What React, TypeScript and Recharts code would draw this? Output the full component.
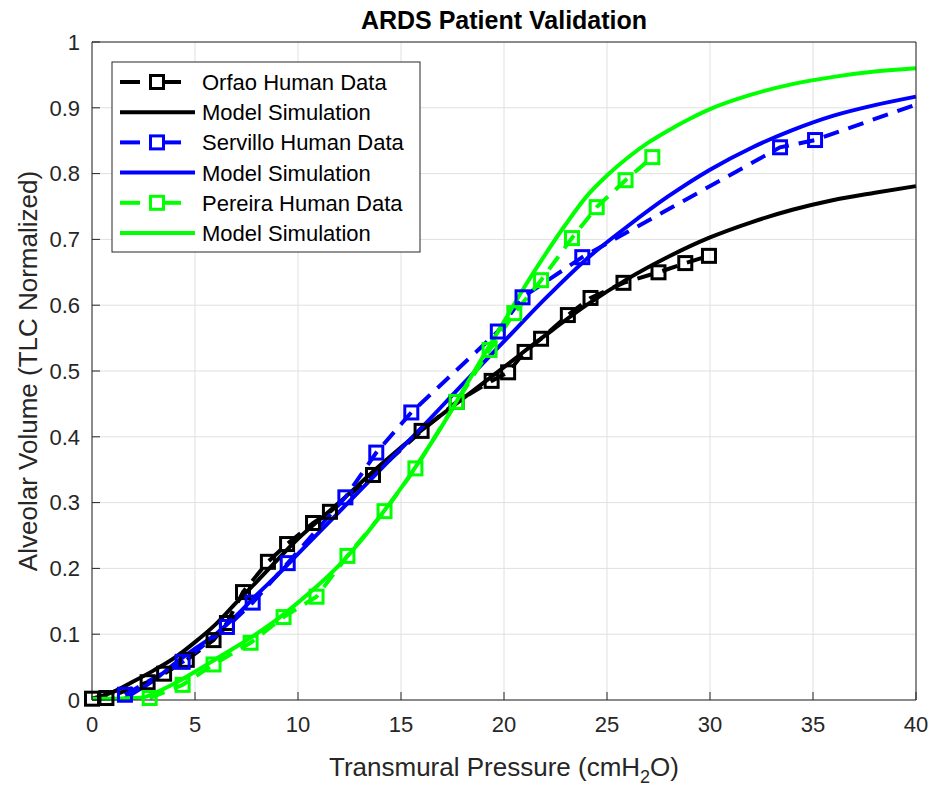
import { ComposedChart, Line, XAxis, YAxis, CartesianGrid } from "recharts";

const W = 932;
const H = 787;
const FONT = "'Liberation Sans', Arial, Helvetica, sans-serif";
const AXIS = "#262626";

const BLACK = "#000000";
const BLUE = "#0000ff";
const GREEN = "#00ff00";

const xTicks = [0, 5, 10, 15, 20, 25, 30, 35, 40];
const yTicks = [0, 0.1, 0.2, 0.3, 0.4, 0.5, 0.6, 0.7, 0.8, 0.9, 1];

// Orfao measurements
const orfaoP = [0, 0.7, 2.7, 3.5, 4.6, 5.9, 6.55, 7.33, 8.54, 9.47, 10.73, 11.55, 13.64, 16.0, 17.7, 19.4, 20.2, 21.0, 21.8, 23.1, 24.2, 25.8, 27.5, 28.8, 29.95];
const orfaoV = [0.002, 0.003, 0.027, 0.04, 0.061, 0.091, 0.117, 0.164, 0.21, 0.237, 0.269, 0.286, 0.342, 0.409, 0.453, 0.485, 0.498, 0.529, 0.549, 0.585, 0.611, 0.634, 0.65, 0.664, 0.675];

// Servillo measurements (the trend continues to 40 without a marker)
const servilloP = [1.6, 4.4, 6.55, 7.8, 9.5, 12.3, 13.8, 15.5, 19.7, 20.9, 23.8, 33.4, 35.1];
const servilloV = [0.008, 0.058, 0.111, 0.148, 0.208, 0.308, 0.376, 0.437, 0.56, 0.612, 0.673, 0.84, 0.851];
const servilloTailP = [40];
const servilloTailV = [0.905];

// Pereira measurements
const pereiraP = [2.8, 4.4, 5.9, 7.7, 9.3, 10.9, 12.4, 14.2, 15.7, 17.7, 19.3, 20.5, 21.8, 23.3, 24.5, 25.9, 27.2];
const pereiraV = [0.003, 0.023, 0.054, 0.087, 0.126, 0.157, 0.219, 0.287, 0.352, 0.453, 0.532, 0.588, 0.638, 0.702, 0.749, 0.79, 0.825];

// model simulations
const orfaoModelP = [0, 1, 2, 3, 4, 5, 6, 7, 8, 10, 12, 14, 16, 18, 20, 22, 24, 26, 28, 30, 32, 34, 36, 38, 40];
const orfaoModelV = [0.002, 0.012, 0.028, 0.045, 0.064, 0.088, 0.115, 0.148, 0.18, 0.245, 0.3, 0.357, 0.41, 0.458, 0.506, 0.554, 0.6, 0.64, 0.674, 0.703, 0.726, 0.745, 0.76, 0.771, 0.781];

const servilloModelP = [1.5, 2, 3, 4, 5, 6, 7, 8, 9, 10, 12, 14, 16, 18, 20, 22, 24, 26, 28, 30, 32, 34, 36, 38, 40];
const servilloModelV = [0.0, 0.01, 0.03, 0.055, 0.078, 0.1, 0.128, 0.16, 0.19, 0.222, 0.286, 0.35, 0.414, 0.48, 0.545, 0.61, 0.67, 0.72, 0.766, 0.806, 0.839, 0.866, 0.888, 0.904, 0.917];

const pereiraModelP = [0, 1, 2, 2.5, 3, 4, 5, 6, 7, 8, 9, 10, 11, 12, 13, 14, 15, 16, 17, 18, 19, 20, 21, 22, 23, 24, 25, 26, 27, 28, 29, 30, 32, 34, 36, 38, 40];
const pereiraModelV = [0.002, 0.002, 0.003, 0.004, 0.01, 0.025, 0.043, 0.062, 0.081, 0.101, 0.123, 0.148, 0.175, 0.205, 0.24, 0.28, 0.322, 0.368, 0.417, 0.47, 0.523, 0.575, 0.628, 0.677, 0.723, 0.765, 0.797, 0.824, 0.847, 0.866, 0.883, 0.898, 0.92, 0.936, 0.947, 0.955, 0.96];

type Pt = { x: number; y: number; bare?: boolean };

const zip = (xs: number[], ys: number[], bare = false): Pt[] =>
  xs.map((x, i) => ({ x, y: ys[i], bare }));

const orfao = zip(orfaoP, orfaoV);
const servillo = [...zip(servilloP, servilloV), ...zip(servilloTailP, servilloTailV, true)];
const pereira = zip(pereiraP, pereiraV);
const orfaoModel = zip(orfaoModelP, orfaoModelV);
const servilloModel = zip(servilloModelP, servilloModelV);
const pereiraModel = zip(pereiraModelP, pereiraModelV);

const MARK = 13;
const DASH = "16 10";

const square = (color: string) => (props: any) => {
  const { cx, cy, index, payload } = props;
  if (cx == null || cy == null || payload?.bare) return <g key={`d-${index}`} />;
  return (
    <rect
      key={`d-${index}`}
      x={cx - MARK / 2}
      y={cy - MARK / 2}
      width={MARK}
      height={MARK}
      fill="none"
      stroke={color}
      strokeWidth={3}
    />
  );
};

const legendRows = [
  { label: "Orfao Human Data", color: BLACK, data: true },
  { label: "Model Simulation", color: BLACK, data: false },
  { label: "Servillo Human Data", color: BLUE, data: true },
  { label: "Model Simulation", color: BLUE, data: false },
  { label: "Pereira Human Data", color: GREEN, data: true },
  { label: "Model Simulation", color: GREEN, data: false },
];

function Overlay() {
  const lx = 112;
  const ly = 62;
  return (
    <svg
      width={W}
      height={H}
      style={{ position: "absolute", left: 0, top: 0, pointerEvents: "none" }}
      fontFamily={FONT}
    >
      <text x={504} y={29} textAnchor="middle" fontSize={25} fontWeight="bold" fill="#000">
        ARDS Patient Validation
      </text>
      <text x={504} y={776} textAnchor="middle" fontSize={26} fill={AXIS}>
        Transmural Pressure (cmH
        <tspan fontSize={18} dy={7}>2</tspan>
        <tspan dy={-7}>O)</tspan>
      </text>
      <text
        x={0}
        y={0}
        transform="translate(37,371) rotate(-90)"
        textAnchor="middle"
        fontSize={26}
        fill={AXIS}
      >
        Alveolar Volume (TLC Normalized)
      </text>

      <rect x={lx} y={ly} width={308} height={190} fill="#fff" stroke={AXIS} strokeWidth={1} />
      {legendRows.map((r, i) => {
        const cy = 82 + i * 30.2;
        return (
          <g key={i}>
            {r.data ? (
              <g>
                <line x1={120} x2={140} y1={cy} y2={cy} stroke={r.color} strokeWidth={4} />
                <line x1={162} x2={181} y1={cy} y2={cy} stroke={r.color} strokeWidth={4} />
                <rect
                  x={157 - MARK / 2}
                  y={cy - MARK / 2}
                  width={MARK}
                  height={MARK}
                  fill="none"
                  stroke={r.color}
                  strokeWidth={3}
                />
              </g>
            ) : (
              <line x1={120} x2={195} y1={cy} y2={cy} stroke={r.color} strokeWidth={4} />
            )}
            <text x={202} y={cy + 8} fontSize={22} fill="#000">
              {r.label}
            </text>
          </g>
        );
      })}
    </svg>
  );
}

export default function App() {
  const tickStyle = { fill: AXIS, fontSize: 22, fontFamily: FONT };
  return (
    <div style={{ position: "absolute", left: 0, top: 0, width: W, height: H, background: "#fff" }}>
      <ComposedChart
        width={W}
        height={H}
        margin={{ top: 42, right: 16, bottom: 47, left: 32 }}
      >
        <CartesianGrid stroke="#e0e0e0" strokeWidth={1} />
        <XAxis
          dataKey="x"
          type="number"
          domain={[0, 40]}
          ticks={xTicks}
          height={40}
          stroke={AXIS}
          tickSize={-8}
          tickMargin={24}
          tick={tickStyle}
        />
        <XAxis
          xAxisId="top"
          orientation="top"
          type="number"
          domain={[0, 40]}
          ticks={xTicks}
          mirror
          height={1}
          tickSize={8}
          stroke={AXIS}
          tick={false}
        />
        <YAxis
          type="number"
          domain={[0, 1]}
          ticks={yTicks}
          width={60}
          stroke={AXIS}
          tickSize={-8}
          tickMargin={20}
          tick={tickStyle}
        />
        <YAxis
          yAxisId="right"
          orientation="right"
          type="number"
          domain={[0, 1]}
          ticks={yTicks}
          mirror
          width={1}
          tickSize={8}
          stroke={AXIS}
          tick={false}
        />

        <Line
          data={orfao}
          dataKey="y"
          stroke={BLACK}
          strokeWidth={4}
          strokeDasharray={DASH}
          dot={square(BLACK)}
          isAnimationActive={false}
        />
        <Line
          data={orfaoModel}
          dataKey="y"
          type="monotone"
          stroke={BLACK}
          strokeWidth={4}
          dot={false}
          isAnimationActive={false}
        />
        <Line
          data={servillo}
          dataKey="y"
          stroke={BLUE}
          strokeWidth={4}
          strokeDasharray={DASH}
          dot={square(BLUE)}
          isAnimationActive={false}
        />
        <Line
          data={servilloModel}
          dataKey="y"
          type="monotone"
          stroke={BLUE}
          strokeWidth={4}
          dot={false}
          isAnimationActive={false}
        />
        <Line
          data={pereira}
          dataKey="y"
          stroke={GREEN}
          strokeWidth={4}
          strokeDasharray={DASH}
          dot={square(GREEN)}
          isAnimationActive={false}
        />
        <Line
          data={pereiraModel}
          dataKey="y"
          type="monotone"
          stroke={GREEN}
          strokeWidth={4}
          dot={false}
          isAnimationActive={false}
        />
      </ComposedChart>
      <Overlay />
    </div>
  );
}
